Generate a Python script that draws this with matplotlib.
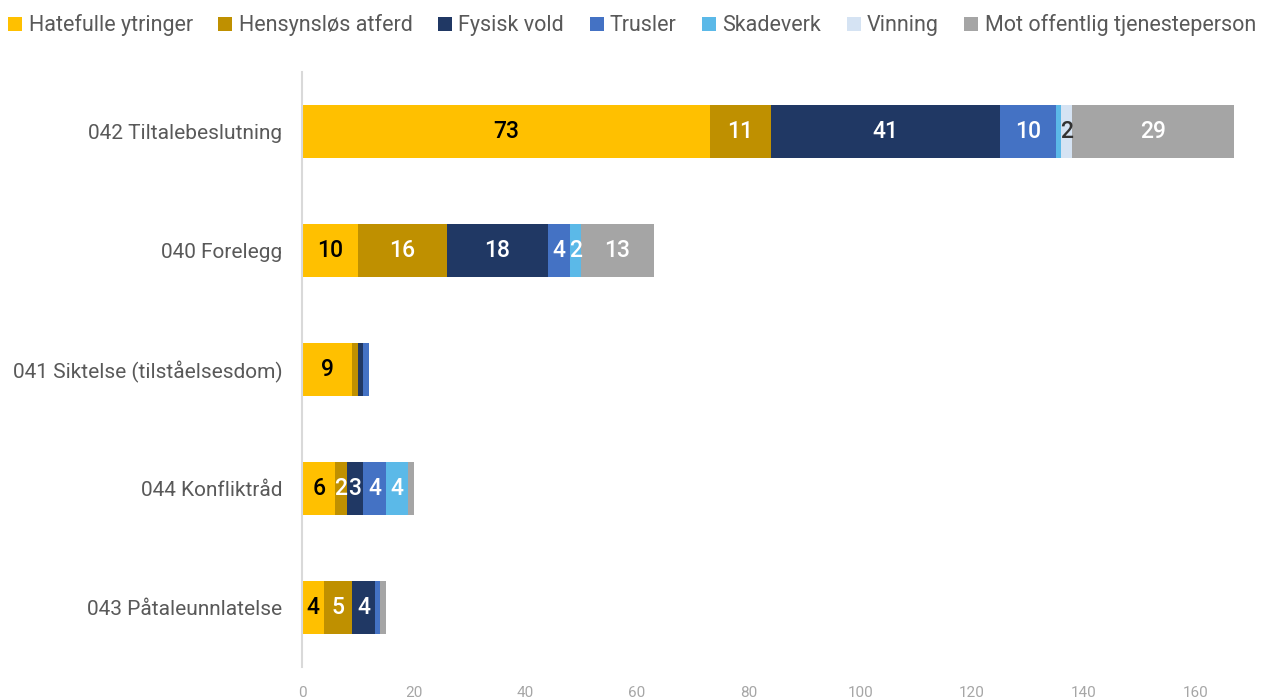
import matplotlib
matplotlib.use("Agg")
import matplotlib.pyplot as plt
import numpy as np

plt.rcParams['font.family'] = ['Roboto', 'DejaVu Sans']

categories = ["042 Tiltalebeslutning", "040 Forelegg", "041 Siktelse (tilståelsesdom)",
              "044 Konfliktråd", "043 Påtaleunnlatelse"]

series_names = ["Hatefulle ytringer", "Hensynsløs atferd", "Fysisk vold", "Trusler",
                "Skadeverk", "Vinning", "Mot offentlig tjenesteperson"]

hatefulle = [73, 10, 9, 6, 4]
hensynslos = [11, 16, 1, 2, 5]
fysisk = [41, 18, 1, 3, 4]
trusler = [10, 4, 1, 4, 1]
skadeverk = [1, 2, 0, 4, 0]
vinning = [2, 0, 0, 0, 0]
mot_offentlig = [29, 13, 0, 1, 1]

series = [hatefulle, hensynslos, fysisk, trusler, skadeverk, vinning, mot_offentlig]
colors = ["#FFC000", "#BF9000", "#203864", "#4472C4", "#5BB9E8", "#D5E3F3", "#A5A5A5"]
label_colors = ["black", "white", "white", "white", "white", "#333333", "white"]

fig = plt.figure(figsize=(12.76, 6.99), dpi=100)
ax = fig.add_axes([302 / 1276, 1 - 667 / 699, (1251 - 302) / 1276, (667 - 72) / 699])

y = np.arange(len(categories))
left = np.zeros(len(categories))
handles = []
for name, vals, col, tcol in zip(series_names, series, colors, label_colors):
    vals = np.array(vals, dtype=float)
    bars = ax.barh(y, vals, left=left, height=0.44, color=col, label=name)
    handles.append(bars)
    for yi, v, l in zip(y, vals, left):
        if v >= 2:
            ax.text(l + v / 2, yi, f"{int(v)}", ha="center", va="center",
                    color=tcol, fontsize=16.5, fontweight="medium")
    left += vals

ax.set_xlim(0, 170)
ax.set_ylim(len(categories) - 0.5, -0.5)
ax.set_yticks(y)
ax.set_yticklabels(categories, fontsize=15, color="#595959")
ax.set_xticks(np.arange(0, 161, 20))
ax.tick_params(axis="x", colors="#A6A6A6", labelsize=11, length=0, pad=14)
ax.tick_params(axis="y", length=0, pad=14)
for s in ["top", "right", "bottom"]:
    ax.spines[s].set_visible(False)
ax.spines["left"].set_color("#D9D9D9")
ax.spines["left"].set_linewidth(1.5)

fig.legend(handles=handles, loc="upper left", bbox_to_anchor=(-0.002, 0.995), ncol=7,
           frameon=False, fontsize=15.5, handlelength=0.65, handleheight=0.65,
           handletextpad=0.3, columnspacing=1.18, labelcolor="#595959",
           borderaxespad=0.1)

fig.savefig("out.png", dpi=100)
